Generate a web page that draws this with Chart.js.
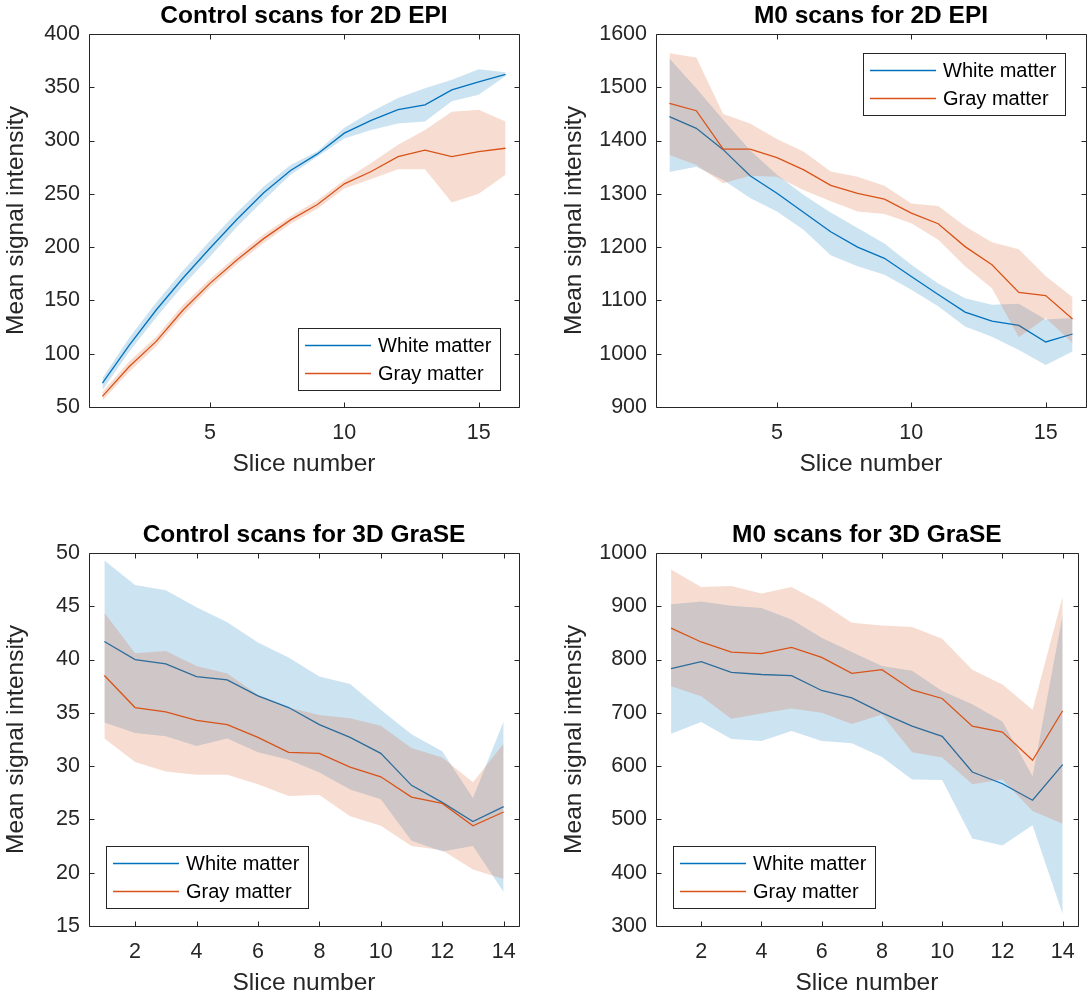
<!DOCTYPE html>
<html>
<head>
<meta charset="utf-8">
<script src="https://cdn.jsdelivr.net/npm/chart.js@4.4.1/dist/chart.umd.min.js"></script>
<style>
  html, body { margin: 0; padding: 0; background: #fff; }
  #wrap { position: relative; width: 1088px; height: 998px; }
  .panel { position: absolute; width: 544px; height: 479px; }
</style>
</head>
<body>
<div id="wrap">
  <div class="panel" style="left:0;top:0"><canvas id="ctrlEpi" width="544" height="479"></canvas></div>
  <div class="panel" style="left:544px;top:0"><canvas id="m0Epi" width="544" height="479"></canvas></div>
  <div class="panel" style="left:0;top:519px"><canvas id="ctrlGrase" width="544" height="479"></canvas></div>
  <div class="panel" style="left:544px;top:519px"><canvas id="m0Grase" width="544" height="479"></canvas></div>
</div>
<script>
// slice numbers
const slices2D = [1, 2, 3, 4, 5, 6, 7, 8, 9, 10, 11, 12, 13, 14, 15, 16];
const slices3D = [1, 2, 3, 4, 5, 6, 7, 8, 9, 10, 11, 12, 13, 14];

// tick labels
const xTicks2D = [5, 10, 15];
const xTicks3D = [2, 4, 6, 8, 10, 12, 14];
const yTicksCtrlEpi = [50, 100, 150, 200, 250, 300, 350, 400];
const yTicksM0Epi = [900, 1000, 1100, 1200, 1300, 1400, 1500, 1600];
const yTicksCtrlGrase = [15, 20, 25, 30, 35, 40, 45, 50];
const yTicksM0Grase = [300, 400, 500, 600, 700, 800, 900, 1000];

// Control scans, 2D EPI (mean and shaded band)
const ctrlEpiWhite   = [72.5, 108, 141, 171, 199, 226, 251, 272, 287.5, 307, 319, 329, 333.5, 347.5, 355, 362];
const ctrlEpiWhiteHi = [77, 115, 148, 178, 206, 232.5, 257, 277, 290, 312, 327, 340, 349, 357, 367, 364];
const ctrlEpiWhiteLo = [66, 102, 134, 164, 191, 219, 244, 268, 285, 302, 310, 316, 318, 337, 343, 360.5];
const ctrlEpiGray    = [60, 88, 111.6, 141, 166, 188, 208, 225.6, 240, 259.4, 271, 285, 291, 285, 289.7, 292.8];
const ctrlEpiGrayHi  = [64, 93, 116, 146, 170, 192, 212, 229, 244, 263, 279, 296, 310, 327, 329, 318];
const ctrlEpiGrayLo  = [56, 83, 107, 136, 162, 184, 204, 222, 236, 255, 264, 273, 273, 242, 250, 268];

// M0 scans, 2D EPI
const m0EpiWhite   = [1445, 1423, 1383, 1334, 1301, 1265, 1229, 1200, 1179, 1145, 1111, 1078, 1061, 1053, 1022, 1037];
const m0EpiWhiteHi = [1554, 1498, 1439, 1382, 1336, 1298, 1265, 1236, 1207, 1167, 1132, 1104, 1092, 1094, 1064, 1067];
const m0EpiWhiteLo = [1341, 1351, 1326, 1292, 1267, 1232, 1185, 1164, 1148, 1120, 1089, 1051, 1032, 1007, 979, 1004];
const m0EpiGray    = [1470, 1456, 1384, 1384, 1368, 1345, 1316, 1301, 1290, 1264, 1244, 1201, 1167, 1115, 1109, 1065];
const m0EpiGrayHi  = [1564, 1556, 1450, 1432, 1403, 1379, 1342, 1332, 1315, 1282, 1277, 1239, 1209, 1196, 1146, 1106];
const m0EpiGrayLo  = [1373, 1354, 1320, 1334, 1332, 1307, 1286, 1267, 1262, 1245, 1214, 1164, 1123, 1031, 1067, 1020];

// Control scans, 3D GraSE
const ctrlGraseWhite   = [41.7, 40, 39.6, 38.4, 38.1, 36.6, 35.5, 33.9, 32.7, 31.2, 28.2, 26.6, 24.8, 26.2];
const ctrlGraseWhiteHi = [49.3, 47, 46.5, 44.9, 43.5, 41.6, 40.2, 38.4, 37.7, 35.3, 33, 31.4, 27, 34.2];
const ctrlGraseWhiteLo = [34.1, 33.1, 32.8, 31.9, 32.6, 31.3, 30.6, 29.4, 27.8, 26.9, 23, 22, 22.5, 18.2];
const ctrlGraseGray    = [38.5, 35.5, 35.1, 34.3, 33.9, 32.7, 31.3, 31.2, 29.9, 29, 27.1, 26.5, 24.4, 25.7];
const ctrlGraseGrayHi  = [44.4, 40.6, 40.8, 39.4, 38.7, 36.7, 35.5, 34.8, 34.5, 33.8, 31.7, 30.8, 28.5, 32.1];
const ctrlGraseGrayLo  = [32.6, 30.4, 29.5, 29.2, 29.2, 28.3, 27.2, 27.3, 25.3, 24.4, 22.5, 22.1, 20.3, 19.4];

// M0 scans, 3D GraSE
const m0GraseWhite   = [783, 796, 776, 772, 770, 742, 728, 700, 675, 656, 589, 567, 536, 603];
const m0GraseWhiteHi = [904, 909, 901, 897, 875, 841, 814, 788, 779, 741, 716, 684, 581, 884];
const m0GraseWhiteLo = [661, 683, 651, 647, 666, 647, 643, 617, 575, 574, 464, 451, 489, 322];
const m0GraseGray    = [859, 833, 814, 811, 823, 804, 774, 781, 743, 727, 675, 664, 611, 704];
const m0GraseGrayHi  = [969, 936, 938, 924, 936, 906, 869, 864, 861, 839, 781, 753, 706, 919];
const m0GraseGrayLo  = [750, 731, 689, 699, 708, 700, 679, 697, 626, 616, 566, 575, 516, 492];

const BLUE = "#0072BD";
const ORANGE = "#D95319";
const BLUE_FILL = "rgba(0,114,189,0.2)";
const ORANGE_FILL = "rgba(217,83,25,0.2)";
const FONT = "'Liberation Sans', Arial, Helvetica, sans-serif";
const AXIS_COLOR = "#262626";

const toPoints = (xs, ys) => xs.map((x, i) => ({ x: x, y: ys[i] }));

// box around the axes with inward ticks on all four sides
const axesBox = {
  id: "axesBox",
  afterDatasetsDraw(chart) {
    const { ctx, chartArea: a, scales } = chart;
    const l = Math.round(a.left) + 0.5, r = Math.round(a.right) + 0.5;
    const t = Math.round(a.top) + 0.5, b = Math.round(a.bottom) + 0.5;
    ctx.save();
    ctx.strokeStyle = AXIS_COLOR;
    ctx.lineWidth = 1;
    ctx.beginPath();
    ctx.rect(l, t, r - l, b - t);
    scales.x.ticks.forEach((tk) => {
      const px = Math.round(scales.x.getPixelForValue(tk.value)) + 0.5;
      ctx.moveTo(px, b); ctx.lineTo(px, b - 5);
      ctx.moveTo(px, t); ctx.lineTo(px, t + 5);
    });
    scales.y.ticks.forEach((tk) => {
      const py = Math.round(scales.y.getPixelForValue(tk.value)) + 0.5;
      ctx.moveTo(l, py); ctx.lineTo(l + 5, py);
      ctx.moveTo(r, py); ctx.lineTo(r - 5, py);
    });
    ctx.stroke();
    ctx.restore();
  },
};

// legend box drawn inside the axes
const boxLegend = {
  id: "boxLegend",
  afterDraw(chart, args, opts) {
    const { ctx } = chart;
    const items = chart.data.datasets.filter((d) => d.label);
    const x = opts.x, y = opts.y;
    ctx.save();
    ctx.fillStyle = "#fff";
    ctx.fillRect(x, y, 202, 62);
    ctx.strokeStyle = AXIS_COLOR;
    ctx.lineWidth = 1;
    ctx.strokeRect(Math.round(x) + 0.5, Math.round(y) + 0.5, 202, 62);
    ctx.font = "20px " + FONT;
    ctx.textBaseline = "middle";
    items.forEach((d, i) => {
      const ry = Math.round(y + 17 + i * 28) + 0.5;
      ctx.strokeStyle = d.borderColor;
      ctx.lineWidth = 1.3;
      ctx.beginPath();
      ctx.moveTo(x + 7, ry);
      ctx.lineTo(x + 73, ry);
      ctx.stroke();
      ctx.fillStyle = "#000";
      ctx.fillText(d.label, x + 80, ry + 1);
    });
    ctx.restore();
  },
};

function makePanel(id, p) {
  const ctx = document.getElementById(id).getContext("2d");
  const band = (vals, color, order, fill) => ({
    data: toPoints(p.slices, vals),
    borderWidth: 0,
    borderColor: "transparent",
    backgroundColor: color,
    pointRadius: 0,
    fill: fill ? "+1" : false,
    order: order,
  });
  const line = (label, vals, color, order) => ({
    label: label,
    data: toPoints(p.slices, vals),
    borderColor: color,
    borderWidth: 1.3,
    pointRadius: 0,
    fill: false,
    order: order,
  });

  return new Chart(ctx, {
    type: "line",
    data: {
      datasets: [
        band(p.whiteHi, BLUE_FILL, 6, true),
        band(p.whiteLo, BLUE_FILL, 5, false),
        line("White matter", p.white, BLUE, 4),
        band(p.grayHi, ORANGE_FILL, 3, true),
        band(p.grayLo, ORANGE_FILL, 2, false),
        line("Gray matter", p.gray, ORANGE, 1),
      ],
    },
    options: {
      responsive: false,
      animation: false,
      devicePixelRatio: 1,
      layout: { padding: { left: 0, right: p.padRight, top: 0, bottom: 0 } },
      scales: {
        x: {
          type: "linear",
          min: p.xMin,
          max: p.xMax,
          afterBuildTicks: (s) => { s.ticks = p.xTicks.map((v) => ({ value: v })); },
          afterFit: (s) => { s.height = 72; },
          grid: { display: false, drawTicks: false },
          border: { display: false },
          ticks: {
            padding: 13,
            color: AXIS_COLOR,
            font: { family: FONT, size: 21.5 },
            autoSkip: false,
            maxRotation: 0,
            callback: (v) => String(v),
          },
          title: {
            display: true,
            text: "Slice number",
            color: AXIS_COLOR,
            font: { family: FONT, size: 24.5 },
            padding: { top: 0, bottom: 0 },
          },
        },
        y: {
          min: p.yTicks[0],
          max: p.yTicks[p.yTicks.length - 1],
          afterBuildTicks: (s) => { s.ticks = p.yTicks.map((v) => ({ value: v })); },
          afterFit: (s) => { s.width = p.yWidth; },
          grid: { display: false, drawTicks: false },
          border: { display: false },
          ticks: {
            padding: 9,
            color: AXIS_COLOR,
            font: { family: FONT, size: 21.5 },
            autoSkip: false,
            callback: (v) => String(v),
          },
          title: {
            display: true,
            text: "Mean signal intensity",
            color: AXIS_COLOR,
            font: { family: FONT, size: 24.5 },
            padding: { top: p.yTitlePad, bottom: 0 },
          },
        },
      },
      plugins: {
        legend: { display: false },
        tooltip: { enabled: false },
        title: {
          display: true,
          fullSize: false,
          text: p.title,
          color: "#000",
          font: { family: FONT, size: 24.5, weight: "bold", lineHeight: 1.2 },
          padding: { top: 1.8, bottom: 2.8 },
        },
        boxLegend: p.legend,
      },
    },
    plugins: [axesBox, boxLegend],
  });
}

makePanel("ctrlEpi", {
  title: "Control scans for 2D EPI",
  slices: slices2D, xMin: 0.5, xMax: 16.5, xTicks: xTicks2D, yTicks: yTicksCtrlEpi,
  white: ctrlEpiWhite, whiteHi: ctrlEpiWhiteHi, whiteLo: ctrlEpiWhiteLo,
  gray: ctrlEpiGray, grayHi: ctrlEpiGrayHi, grayLo: ctrlEpiGrayLo,
  yWidth: 89, padRight: 25, yTitlePad: 2,
  legend: { x: 298, y: 328 },
});

makePanel("m0Epi", {
  title: "M0 scans for 2D EPI",
  slices: slices2D, xMin: 0.5, xMax: 16.5, xTicks: xTicks2D, yTicks: yTicksM0Epi,
  white: m0EpiWhite, whiteHi: m0EpiWhiteHi, whiteLo: m0EpiWhiteLo,
  gray: m0EpiGray, grayHi: m0EpiGrayHi, grayLo: m0EpiGrayLo,
  yWidth: 112, padRight: 2, yTitlePad: 16,
  legend: { x: 319, y: 53 },
});

makePanel("ctrlGrase", {
  title: "Control scans for 3D GraSE",
  slices: slices3D, xMin: 0.5, xMax: 14.5, xTicks: xTicks3D, yTicks: yTicksCtrlGrase,
  white: ctrlGraseWhite, whiteHi: ctrlGraseWhiteHi, whiteLo: ctrlGraseWhiteLo,
  gray: ctrlGraseGray, grayHi: ctrlGraseGrayHi, grayLo: ctrlGraseGrayLo,
  yWidth: 89, padRight: 25, yTitlePad: 2,
  legend: { x: 106, y: 327 },
});

makePanel("m0Grase", {
  title: "M0 scans for 3D GraSE",
  slices: slices3D, xMin: 0.5, xMax: 14.5, xTicks: xTicks3D, yTicks: yTicksM0Grase,
  white: m0GraseWhite, whiteHi: m0GraseWhiteHi, whiteLo: m0GraseWhiteLo,
  gray: m0GraseGray, grayHi: m0GraseGrayHi, grayLo: m0GraseGrayLo,
  yWidth: 112, padRight: 2, yTitlePad: 16,
  legend: { x: 129, y: 327 },
});
</script>
</body>
</html>
